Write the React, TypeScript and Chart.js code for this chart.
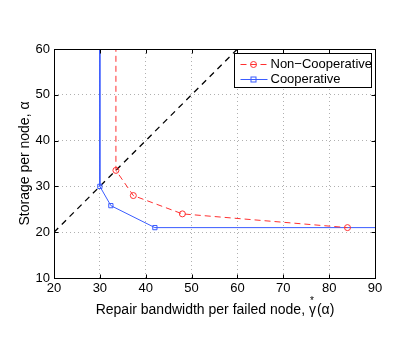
import React, { useEffect, useRef } from 'react';
import { Chart, registerables } from 'chart.js';

Chart.register(...registerables);

const xTicks = [20, 30, 40, 50, 60, 70, 80, 90];
const yTicks = [10, 20, 30, 40, 50, 60];

const nonCoopX = [33.5, 33.5, 37.3, 48, 84];
const nonCoopY = [100, 33.5, 28, 24, 21];
const nonCoopMarkers = [0, 3, 3, 3, 3];

const coopX = [30, 30, 32.4, 42, 100];
const coopY = [100, 30, 25.8, 21, 21];
const coopMarkers = [0, 3, 3, 3, 0];

const diagX = [20, 60];
const diagY = [20, 60];

const seriesLabels = ['Non\u2212Cooperative', 'Cooperative'];
const yTitle = 'Storage per node, \u03b1';
const xTitleParts = ['Repair bandwidth per failed node, \u03b3', '*', '(\u03b1)'];

const FONT = '"Liberation Sans", Arial, Helvetica, sans-serif';
const RED = '#ff3030';
const BLUE = '#3a5cff';

const toPts = (xs: number[], ys: number[]) => xs.map((x, i) => ({ x, y: ys[i] }));

const framePlugin = {
  id: 'framePlugin',
  afterDraw(chart: any) {
    const ctx = chart.ctx;
    const ca = chart.chartArea;
    const xs = chart.scales.x;
    const ys = chart.scales.y;
    ctx.save();
    ctx.strokeStyle = '#000';
    ctx.lineWidth = 1;
    ctx.setLineDash([]);
    const L = Math.round(ca.left) + 0.5;
    const R = Math.round(ca.right) + 0.5;
    const T = Math.round(ca.top) + 0.5;
    const B = Math.round(ca.bottom) + 0.5;
    ctx.strokeRect(L, T, R - L, B - T);
    const tl = 4;
    ctx.beginPath();
    xTicks.forEach((v) => {
      const px = Math.round(xs.getPixelForValue(v)) + 0.5;
      ctx.moveTo(px, B);
      ctx.lineTo(px, B - tl);
      ctx.moveTo(px, T);
      ctx.lineTo(px, T + tl);
    });
    yTicks.forEach((v) => {
      const py = Math.round(ys.getPixelForValue(v)) + 0.5;
      ctx.moveTo(L, py);
      ctx.lineTo(L + tl, py);
      ctx.moveTo(R, py);
      ctx.lineTo(R - tl, py);
    });
    ctx.stroke();

    // legend
    const bw = 137;
    const bh = 34;
    const bx = Math.round(ca.right - 4 - bw) + 0.5;
    const by = Math.round(ca.top + 4) + 0.5;
    ctx.fillStyle = '#fff';
    ctx.fillRect(bx, by, bw, bh);
    ctx.strokeStyle = '#000';
    ctx.strokeRect(bx, by, bw, bh);
    const rows = [by + 10, by + 25];
    chart.data.datasets.slice(0, 2).forEach((ds: any, i: number) => {
      const y = Math.round(rows[i]) + 0.5;
      ctx.strokeStyle = ds.borderColor;
      ctx.lineWidth = 1;
      ctx.setLineDash(ds.borderDash || []);
      ctx.beginPath();
      ctx.moveTo(bx + 6, y);
      ctx.lineTo(bx + 33, y);
      ctx.stroke();
      ctx.setLineDash([]);
      const mx = bx + 19;
      ctx.beginPath();
      if (ds.pointStyle === 'rect') {
        ctx.strokeRect(mx - 2.5, y - 2.5, 5, 5);
      } else {
        ctx.arc(mx, y, 3, 0, Math.PI * 2);
        ctx.stroke();
      }
      ctx.fillStyle = '#000';
      ctx.font = `13px ${FONT}`;
      ctx.textBaseline = 'middle';
      ctx.textAlign = 'left';
      ctx.fillText(ds.label, bx + 36, y);
    });

    // axis titles
    ctx.fillStyle = '#000';
    ctx.font = `14px ${FONT}`;
    ctx.textBaseline = 'middle';
    ctx.textAlign = 'left';
    const w0 = ctx.measureText(xTitleParts[0]).width;
    ctx.font = `10px ${FONT}`;
    const w1 = ctx.measureText(xTitleParts[1]).width;
    ctx.font = `14px ${FONT}`;
    const w2 = ctx.measureText(xTitleParts[2]).width;
    const total = w0 + w2;
    const cx = (ca.left + ca.right) / 2;
    const x0 = cx - total / 2;
    const ty = 310;
    ctx.fillText(xTitleParts[0], x0, ty);
    ctx.font = `10px ${FONT}`;
    ctx.fillText(xTitleParts[1], x0 + w0 - 5 - w1 / 2 + 1, ty - 9);
    ctx.font = `14px ${FONT}`;
    ctx.fillText(xTitleParts[2], x0 + w0 + 1, ty);

    ctx.save();
    ctx.translate(25, (ca.top + ca.bottom) / 2);
    ctx.rotate(-Math.PI / 2);
    ctx.textAlign = 'center';
    ctx.fillText(yTitle, 0, 0);
    ctx.restore();

    ctx.restore();
  },
};

export default function App() {
  const ref = useRef<HTMLCanvasElement>(null);
  useEffect(() => {
    if (!ref.current) return;
    const chart = new Chart(ref.current, {
      type: 'scatter',
      data: {
        datasets: [
          {
            label: seriesLabels[0],
            data: toPts(nonCoopX, nonCoopY),
            showLine: true,
            borderColor: RED,
            borderWidth: 1,
            borderDash: [6, 4],
            pointStyle: 'circle',
            pointRadius: nonCoopMarkers,
            pointBorderColor: RED,
            pointBackgroundColor: 'rgba(0,0,0,0)',
            pointBorderWidth: 1,
          } as any,
          {
            label: seriesLabels[1],
            data: toPts(coopX, coopY),
            showLine: true,
            borderColor: BLUE,
            borderWidth: 1,
            pointStyle: 'rect',
            pointRadius: coopMarkers,
            pointBorderColor: BLUE,
            pointBackgroundColor: 'rgba(0,0,0,0)',
            pointBorderWidth: 1,
          } as any,
          {
            label: 'diag',
            data: toPts(diagX, diagY),
            showLine: true,
            borderColor: '#000',
            borderWidth: 1.3,
            borderDash: [6, 5],
            pointRadius: 0,
          } as any,
        ],
      },
      options: {
        animation: false,
        responsive: false,
        layout: { padding: { left: 0, right: 40, top: 49, bottom: 0 } },
        plugins: { legend: { display: false }, tooltip: { enabled: false } },
        scales: {
          x: {
            type: 'linear',
            min: 20,
            max: 90,
            afterBuildTicks: (s: any) => {
              s.ticks = xTicks.map((v) => ({ value: v }));
            },
            afterFit: (s: any) => {
              s.height = 63;
            },
            ticks: {
              color: '#000',
              font: { family: FONT, size: 13 },
              padding: 3,
              maxRotation: 0,
            },
            grid: { color: '#b0b0b0', drawTicks: false, lineWidth: 1 },
            border: { display: false, dash: [1, 3] },
          },
          y: {
            type: 'linear',
            min: 10,
            max: 60,
            afterBuildTicks: (s: any) => {
              s.ticks = yTicks.map((v) => ({ value: v }));
            },
            afterFit: (s: any) => {
              s.width = 54;
            },
            ticks: {
              color: '#000',
              font: { family: FONT, size: 13 },
              padding: 4,
            },
            grid: { color: '#b0b0b0', drawTicks: false, lineWidth: 1 },
            border: { display: false, dash: [1, 3] },
          },
        },
      },
      plugins: [framePlugin],
    });
    return () => chart.destroy();
  }, []);
  return (
    <div style={{ position: 'absolute', left: 0, top: 0, width: 415, height: 341, background: '#fff' }}>
      <canvas ref={ref} width={415} height={341} style={{ width: 415, height: 341 }} />
    </div>
  );
}
